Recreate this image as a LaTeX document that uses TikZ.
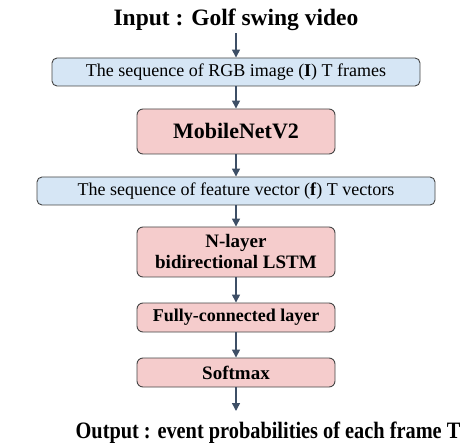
\documentclass[tikz,border=0pt]{standalone}
\usepackage{fontspec}
\setmainfont{Liberation Serif}
\usepackage{xcolor}
\usetikzlibrary{arrows.meta, positioning}

\definecolor{boxblue}{HTML}{D6E6F5}
\definecolor{boxred}{HTML}{F5CCCC}
\definecolor{arrowgray}{HTML}{3E4F66}
\definecolor{edgegray}{HTML}{454545}

\tikzset{
  seqbox/.style={draw=edgegray, fill=boxblue, rounded corners=5pt, line width=0.9pt,
    minimum height=28pt, inner sep=0pt, font=\fontsize{18}{20}\selectfont},
  netbox/.style={draw=edgegray, fill=boxred, rounded corners=6pt, line width=0.9pt,
    minimum width=198pt, inner sep=0pt, align=center, font=\bfseries\fontsize{19}{21}\selectfont},
  iotext/.style={inner sep=2pt, font=\bfseries\fontsize{23.5}{26}\selectfont},
  flow/.style={draw=arrowgray, line width=1.5pt, -{Triangle[width=8pt,length=8pt]}}
}

\begin{document}
\begin{tikzpicture}[x=1pt, y=-1pt]
  \useasboundingbox (0,0) rectangle (463,446);
  \node[iotext] (in) at (236,20) {Input : Golf swing video};
  \node[seqbox, minimum width=368pt] (rgb) at (236,72) {The sequence of RGB image (\textbf{I}) T frames};
  \node[netbox, minimum height=45pt, font=\bfseries\fontsize{22}{24}\selectfont] (mob) at (236,131.5) {MobileNetV2};
  \node[seqbox, minimum width=398pt] (feat) at (236,191) {The sequence of feature vector (\textbf{f}) T vectors};
  \node[netbox, minimum height=50pt] (lstm) at (236,252) {N-layer\\bidirectional LSTM};
  \node[netbox, minimum height=29pt, font=\bfseries\fontsize{18}{20}\selectfont] (fc) at (236,317.5) {Fully-connected layer};
  \node[netbox, minimum height=29pt] (soft) at (236,372.5) {Softmax};
  \node[iotext] (out) at (268,433) {\scalebox{0.865}[1]{Output : event probabilities of each frame T}};
  \coordinate (outtip) at (236,411);
  \draw[flow] (in) -- (rgb);
  \draw[flow] (rgb) -- (mob);
  \draw[flow] (mob) -- (feat);
  \draw[flow] (feat) -- (lstm);
  \draw[flow] (lstm) -- (fc);
  \draw[flow] (fc) -- (soft);
  \draw[flow] (soft) -- (outtip);
\end{tikzpicture}
\end{document}
